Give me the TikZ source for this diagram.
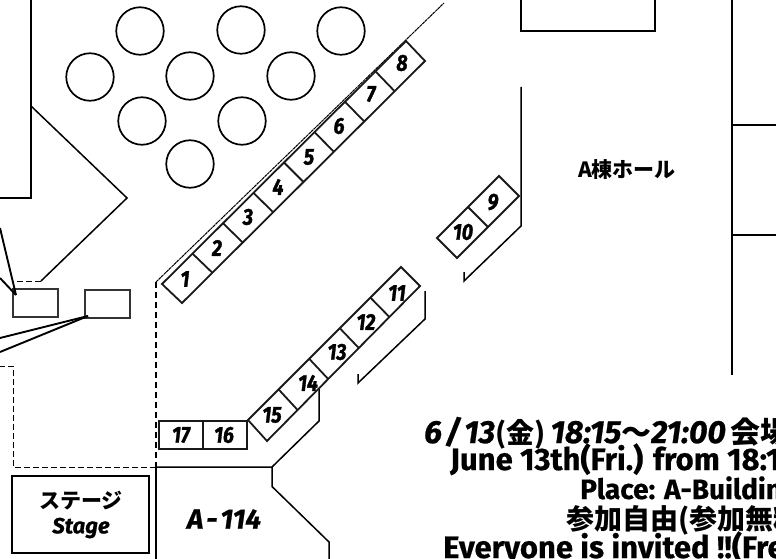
\documentclass[tikz,border=0pt]{standalone}
\usepackage{fontspec}
\usetikzlibrary{calc}
\setmainfont{Fira Sans}
\newfontfamily\jp{Noto Sans CJK JP Black}
\newfontfamily\lat{Fira Sans Bold}[FakeBold=0.6]
\newfontfamily\latit{Fira Sans Bold Italic}[FakeBold=0.8]
\newfontfamily\numf{Fira Sans Bold Italic}[FakeStretch=0.85,FakeBold=1.3]
\tikzset{
  wall/.style={line width=1.5pt,black},
  thin wall/.style={line width=1pt,black},
  table/.style={draw=black,line width=1.7pt,circle,minimum size=47.5pt,inner sep=0pt},
  booth/.style={draw=black!90,line width=1.8pt},
  lead/.style={line width=1.9pt,black},
  room/.style={draw=black!80,line width=2pt,minimum width=45pt,minimum height=28pt,inner sep=0pt},
  num/.style={font=\numf\fontsize{23}{23}\selectfont,inner sep=0pt},
  info/.style={inner sep=0pt,anchor=base west},
}
\begin{document}
\begin{tikzpicture}[x=1pt,y=-1pt]
\useasboundingbox (0,0) rectangle (776,559);
\clip (0,0) rectangle (776,559);
% tables
\foreach \n/\p in {a/{140,31},b/{241,30},c/{341,31},d/{90,77},e/{190,76},f/{291,76},g/{142,121},h/{242,121},i/{190,164}}
  \node[table] (t\n) at (\p) {};
% walls
\coordinate (w1) at (31,0); \coordinate (w2) at (31,198); \coordinate (w3) at (0,198);
\draw[wall] (w1) -- (w2) -- (w3);
\coordinate (d1) at (31,106); \coordinate (d2) at (127,198); \coordinate (d3) at (41,281); \coordinate (d4) at (14,281);
\draw[wall] (d1) -- (d2) -- (d3);
\draw[thin wall,dash pattern=on 6pt off 3pt] (d3) -- (d4);
\coordinate (s0) at (156,282); \coordinate (s1) at (156,467); \coordinate (s2) at (13,467); \coordinate (s3) at (13,366); \coordinate (s4) at (0,366);
\coordinate (s5) at (444,3);
\draw[thin wall,dash pattern=on 3pt off 0.6pt] (s0) -- (s5);
\draw[line width=1.9pt,dash pattern=on 6pt off 4pt] (s0) -- (s1);
\draw[thin wall,dash pattern=on 6pt off 3pt] (s1) -- (s2) -- (s3) -- (s4);
\coordinate (r1) at (272,467); \coordinate (r2) at (272,486.5); \coordinate (r3) at (329,542); \coordinate (r4) at (329,559);
\coordinate (r5) at (319,421); \coordinate (r6) at (319,389); \coordinate (r7) at (156,559);
\draw[wall] (s1) -- (r1) -- (r2) -- (r3) -- (r4);
\draw[wall] (r1) -- (r5) -- (r6);
\draw[wall] (s1) -- (r7);
\coordinate (q1) at (521,0); \coordinate (q2) at (521,31); \coordinate (q3) at (655,31); \coordinate (q4) at (655,0);
\draw[wall] (q1) -- (q2) -- (q3) -- (q4);
\coordinate (q5) at (521,87); \coordinate (q6) at (521,226); \coordinate (q7) at (464,281); \coordinate (q8) at (464,272);
\draw[wall] (q5) -- (q6) -- (q7) -- (q8);
\coordinate (q9) at (425,291); \coordinate (q10) at (425,319); \coordinate (q11) at (358,383); \coordinate (q12) at (358,374);
\draw[wall] (q9) -- (q10) -- (q11) -- (q12);
\coordinate (h1) at (732,0); \coordinate (h2) at (732,375); \coordinate (h3) at (732,125); \coordinate (h4) at (776,125); \coordinate (h5) at (732,235); \coordinate (h6) at (776,235);
\draw[wall] (h1) -- (h2) (h3) -- (h4) (h5) -- (h6);
% strips of booths
\coordinate (A1) at (162,284); \coordinate (A2) at (182,303); \coordinate (A3) at (425,61); \coordinate (A4) at (406,41);
\draw[booth] (A1) -- (A2) -- (A3) -- (A4) -- cycle;
\foreach \k in {1,...,7}
  \draw[booth] ($(A1)!\k/8!(A4)$) -- ($(A2)!\k/8!(A3)$);
\coordinate (B1) at (437,238); \coordinate (B2) at (457,258); \coordinate (B3) at (519,196); \coordinate (B4) at (499,176);
\draw[booth] (B1) -- (B2) -- (B3) -- (B4) -- cycle;
\draw[booth] ($(B1)!0.5!(B4)$) -- ($(B2)!0.5!(B3)$);
\coordinate (C1) at (248,420); \coordinate (C2) at (267,441); \coordinate (C3) at (420,286); \coordinate (C4) at (401,267);
\draw[booth] (C1) -- (C2) -- (C3) -- (C4) -- cycle;
\foreach \k in {1,...,4}
  \draw[booth] ($(C1)!\k/5!(C4)$) -- ($(C2)!\k/5!(C3)$);
\node[booth,minimum width=44pt,minimum height=28pt,inner sep=0pt] (b17) at (181,435) {};
\node[booth,minimum width=44pt,minimum height=28pt,inner sep=0pt] (b16) at (225,435) {};
\foreach \n/\p in {1/{185,279},2/{217,248},3/{248,217},4/{278,187},5/{309,157},6/{339,126},7/{371,94},8/{402,63},9/{493,202},10/{463,232},11/{397,293},12/{366,322},13/{337,352},14/{308,383},15/{272,415},16/{224,435},17/{181,435}}
  \node[num] (n\n) at (\p) {\n};
% small rooms and leaders
\node[room] (p1) at (35.5,303) {};
\node[room] (p2) at (107.5,304) {};
\coordinate (l1) at (0,228); \coordinate (l2) at (0,278); \coordinate (l3) at (0,338); \coordinate (l4) at (0,352);
\coordinate (e1) at (16,295); \coordinate (e2) at (88,316);
\draw[lead] (l1) -- (e1); \draw[lead] (l2) -- (e1);
\draw[lead] (l3) -- (e2); \draw[lead] (l4) -- (e2);
% stage
\node[draw=black,line width=2.2pt,minimum width=137pt,minimum height=77pt,inner sep=0pt] (stage) at (80.5,514.5) {};
\node[font=\jp\fontsize{21}{21}\selectfont,inner sep=0pt] (st1) at (81,501) {ステージ};
\node[font=\latit\fontsize{22}{22}\selectfont,inner sep=0pt] (st2) at (81,528) {Stage};
\node[font=\jp\fontsize{21}{21}\selectfont,inner sep=0pt] (aa) at (627,170) {A棟ホール};
\node[font=\latit\fontsize{28}{28}\selectfont,inner sep=0pt] (a114) at (224,519) {A\kern3pt-\kern3pt114};
% info
\node[info,font=\latit\fontsize{32}{32}\selectfont] (i1) at (424,443) {6\kern3pt/\kern3pt13{\jp\fontsize{28}{28}\selectfont(金)}\kern5pt 18:15{\jp\fontsize{30}{30}\selectfont～}21:00\kern5pt {\jp\fontsize{30}{30}\selectfont 会場}};
\node[info,font=\lat\fontsize{31}{31}\selectfont] (i2) at (450,470) {June 13th(Fri.) from 18:15};
\node[info,font=\lat\fontsize{28}{28}\selectfont] (i3) at (580,499) {Place: A-Building};
\node[info,font=\jp\fontsize{28}{28}\selectfont] (i4) at (566,529) {参加自由(参加無料};
\node[info,font=\lat\fontsize{31}{31}\selectfont] (i5) at (443,558) {Everyone is invited !!(Free};
\end{tikzpicture}
\end{document}
